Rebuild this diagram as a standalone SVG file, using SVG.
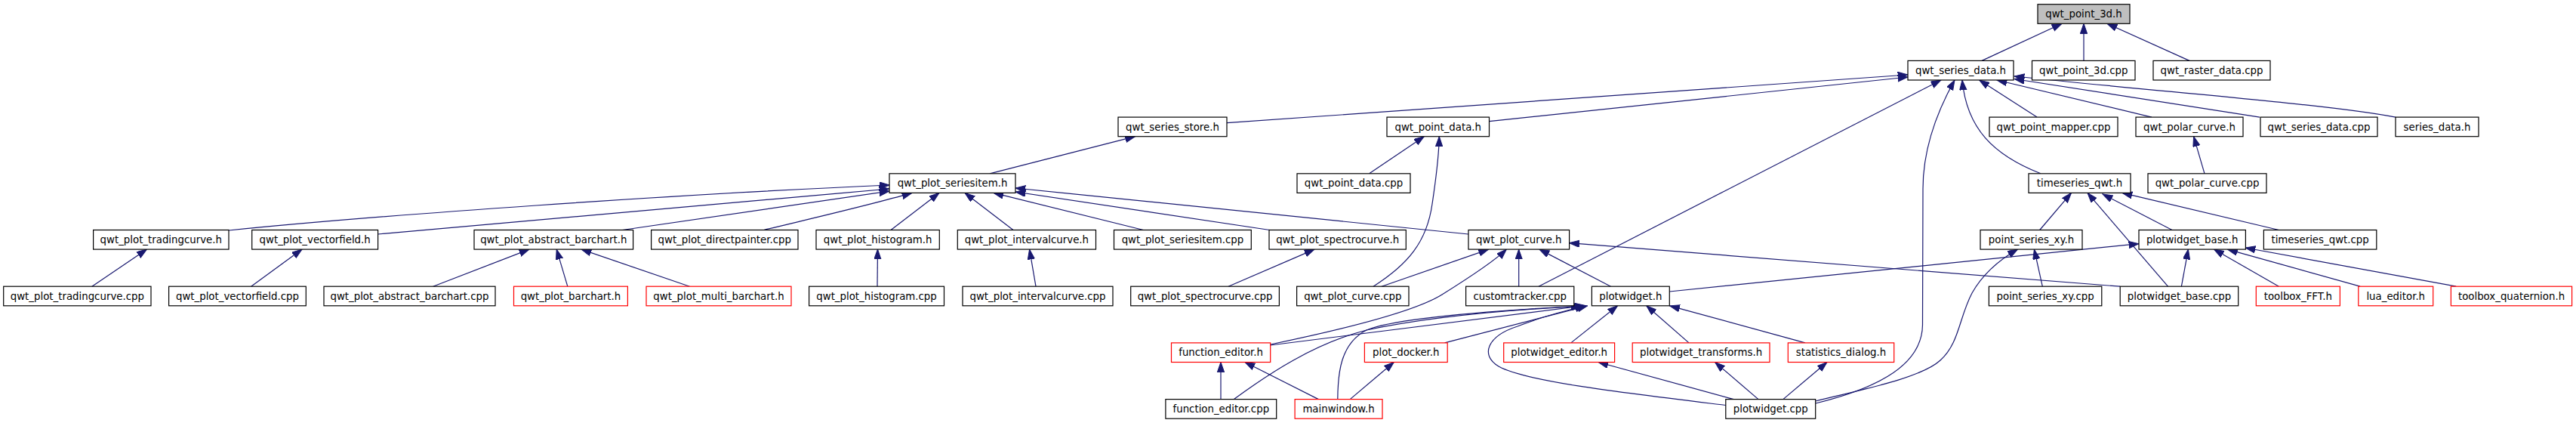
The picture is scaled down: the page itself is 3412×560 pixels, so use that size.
<svg xmlns="http://www.w3.org/2000/svg" width="3412" height="560" viewBox="0 0 3412 560">
<style>
rect{fill:#fff;stroke:#000;stroke-width:1.2}
.red rect{stroke:#ff0000}
.root rect{fill:#bfbfbf}
text{font-family:"DejaVu Sans","Liberation Sans",sans-serif;font-size:13.33px;text-anchor:middle;fill:#000}
#edges path{fill:none;stroke:#191970;stroke-width:1.2;marker-end:url(#ah)}
</style>
<defs>
<marker id="ah" markerUnits="userSpaceOnUse" markerWidth="14" markerHeight="10" refX="13.3" refY="4.67" orient="auto" viewBox="0 0 14 10">
<path d="M0,0 L13.3,4.67 L0,9.34 z" fill="#191970" stroke="#191970" stroke-width="1"/>
</marker>
</defs>
<rect x="0" y="0" width="3412" height="560" style="fill:#fff;stroke:none"/>
<g id="edges">
<path d="M2625,80.4 L2731,31.3"/>
<path d="M2760,80.4 L2760,31.3"/>
<path d="M2900,80.4 L2791,31.3"/>
<path d="M1625,162.7 L2527,99"/>
<path d="M1972.5,160.7 L2527,102"/>
<path d="M2038,379.2 L2571,106"/>
<path d="M2404.7,534 C2470,518 2546,490 2546.5,430 L2547,250 C2547,190 2570,140 2589,106"/>
<path d="M2703,229.8 C2640,205 2605,170 2599,106"/>
<path d="M2698,155.1 L2621.7,106"/>
<path d="M2850,155.1 L2645,106"/>
<path d="M2993,155.1 L2668,104.5"/>
<path d="M3173,155.1 C3080,138 2900,125 2668,101"/>
<path d="M1311,229.8 L1503.6,180.7"/>
<path d="M303,305 C500,285 900,257 1178,245"/>
<path d="M500.6,310 L1178,250"/>
<path d="M824.5,304.5 L1178,253"/>
<path d="M1011.7,304.5 C1080,288 1150,272 1208,255.4"/>
<path d="M1180,304.5 L1244,255.4"/>
<path d="M1342,304.5 L1278,255.4"/>
<path d="M1514.4,304.5 L1316,255.4"/>
<path d="M1681.6,304.5 L1345,254"/>
<path d="M1945,310 L1345,249"/>
<path d="M121.8,379.2 L194.5,330.1"/>
<path d="M332.6,379.2 L400,330.1"/>
<path d="M573.6,379.2 L701,330.1"/>
<path d="M751.8,379.2 L737.2,330.1"/>
<path d="M913.5,379.2 L770,330.1"/>
<path d="M1162,379.2 L1162.5,330.1"/>
<path d="M1372,379.2 L1363.6,330.1"/>
<path d="M1627,379.2 L1741,330.1"/>
<path d="M1813.6,229.8 L1886.3,180.7"/>
<path d="M1819,379.2 C1865,350 1890,320 1897,270 C1903,230 1906,200 1906.3,180.7"/>
<path d="M1830,379.2 L1971.7,330.1"/>
<path d="M1682.7,456 C1760,440 1870,415 1910,390 C1950,365 1980,345 1995.4,330.1"/>
<path d="M2011.7,379.2 L2011.7,330.1"/>
<path d="M2133.5,379.2 L2039,330.1"/>
<path d="M2808,379.2 L2078.6,321.7"/>
<path d="M2211.3,386 L2833,322.7"/>
<path d="M2701.7,304.5 L2743.5,255.4"/>
<path d="M2871.5,379.2 L2765,255.4"/>
<path d="M2877,304.5 L2785,257"/>
<path d="M3018.4,304.5 L2811,255.4"/>
<path d="M2889.4,379.2 L2898.4,330.1"/>
<path d="M3018.4,379.2 L2932.4,330.1"/>
<path d="M3126,379.2 L2950.4,330.1"/>
<path d="M3253.2,379.2 L2974,328"/>
<path d="M2705.3,379.2 L2694.4,330.1"/>
<path d="M2404.7,531 C2470,515 2545,500 2570,477 C2595,455 2595,420 2612,388 C2628,360 2650,343 2672.6,330.1"/>
<path d="M2920,229.8 L2905.6,180.7"/>
<path d="M1913.6,453.9 L2102.6,404.8"/>
<path d="M2080.8,453.9 L2142.6,404.8"/>
<path d="M2237,453.9 L2180.8,404.8"/>
<path d="M2391,453.9 L2211.6,404.8"/>
<path d="M1682.7,457 L2100,404.5"/>
<path d="M1634.4,528.6 C1680,495 1740,455 1810,437 C1900,418 2000,410 2094,405.5"/>
<path d="M1771.8,528.6 C1772,495 1775,455 1810,437 C1850,420 2000,410 2096,405"/>
<path d="M2285.8,536.5 C2150,520 2020,505 1985,485 C1960,470 1970,445 2010,432 C2040,420 2070,412 2100,405"/>
<path d="M1746.4,528.6 L1649,479.5"/>
<path d="M1617,528.6 L1617,479.5"/>
<path d="M1788.2,528.6 L1846.3,479.5"/>
<path d="M2296.4,528.6 L2117,479.5"/>
<path d="M2329,528.6 L2271.6,479.5"/>
<path d="M2361.8,528.6 L2420,479.5"/>
</g>
<g id="n_qwt_point_3d_h" class="root"><rect x="2699" y="5.7" width="122" height="25.6"/><text x="2760" y="23.2">qwt_point_3d.h</text></g>
<g id="n_qwt_series_data_h"><rect x="2527" y="80.4" width="140" height="25.6"/><text x="2597" y="97.9">qwt_series_data.h</text></g>
<g id="n_qwt_point_3d_cpp"><rect x="2691.5" y="80.4" width="136.5" height="25.6"/><text x="2759.75" y="97.9">qwt_point_3d.cpp</text></g>
<g id="n_qwt_raster_data_cpp"><rect x="2852" y="80.4" width="155" height="25.6"/><text x="2929.5" y="97.9">qwt_raster_data.cpp</text></g>
<g id="n_qwt_series_store_h"><rect x="1481" y="155.1" width="144" height="25.6"/><text x="1553" y="172.6">qwt_series_store.h</text></g>
<g id="n_qwt_point_data_h"><rect x="1837" y="155.1" width="135.5" height="25.6"/><text x="1904.75" y="172.6">qwt_point_data.h</text></g>
<g id="n_qwt_point_mapper_cpp"><rect x="2635" y="155.1" width="170" height="25.6"/><text x="2720" y="172.6">qwt_point_mapper.cpp</text></g>
<g id="n_qwt_polar_curve_h"><rect x="2829" y="155.1" width="142" height="25.6"/><text x="2900" y="172.6">qwt_polar_curve.h</text></g>
<g id="n_qwt_series_data_cpp"><rect x="2994" y="155.1" width="155" height="25.6"/><text x="3071.5" y="172.6">qwt_series_data.cpp</text></g>
<g id="n_series_data_h"><rect x="3173" y="155.1" width="110" height="25.6"/><text x="3228" y="172.6">series_data.h</text></g>
<g id="n_qwt_plot_seriesitem_h"><rect x="1178" y="229.8" width="167" height="25.6"/><text x="1261.5" y="247.3">qwt_plot_seriesitem.h</text></g>
<g id="n_qwt_point_data_cpp"><rect x="1718" y="229.8" width="150" height="25.6"/><text x="1793" y="247.3">qwt_point_data.cpp</text></g>
<g id="n_timeseries_qwt_h"><rect x="2687" y="229.8" width="135" height="25.6"/><text x="2754.5" y="247.3">timeseries_qwt.h</text></g>
<g id="n_qwt_polar_curve_cpp"><rect x="2845" y="229.8" width="157" height="25.6"/><text x="2923.5" y="247.3">qwt_polar_curve.cpp</text></g>
<g id="n_qwt_plot_tradingcurve_h"><rect x="123.6" y="304.5" width="179.4" height="25.6"/><text x="213.3" y="322">qwt_plot_tradingcurve.h</text></g>
<g id="n_qwt_plot_vectorfield_h"><rect x="333.7" y="304.5" width="166.9" height="25.6"/><text x="417.15" y="322">qwt_plot_vectorfield.h</text></g>
<g id="n_qwt_plot_abstract_barchart_h"><rect x="628" y="304.5" width="210.6" height="25.6"/><text x="733.3" y="322">qwt_plot_abstract_barchart.h</text></g>
<g id="n_qwt_plot_directpainter_cpp"><rect x="862.6" y="304.5" width="194.4" height="25.6"/><text x="959.8" y="322">qwt_plot_directpainter.cpp</text></g>
<g id="n_qwt_plot_histogram_h"><rect x="1081" y="304.5" width="163.3" height="25.6"/><text x="1162.65" y="322">qwt_plot_histogram.h</text></g>
<g id="n_qwt_plot_intervalcurve_h"><rect x="1268.3" y="304.5" width="183.2" height="25.6"/><text x="1359.9" y="322">qwt_plot_intervalcurve.h</text></g>
<g id="n_qwt_plot_seriesitem_cpp"><rect x="1475.5" y="304.5" width="181.8" height="25.6"/><text x="1566.4" y="322">qwt_plot_seriesitem.cpp</text></g>
<g id="n_qwt_plot_spectrocurve_h"><rect x="1681" y="304.5" width="181.3" height="25.6"/><text x="1771.65" y="322">qwt_plot_spectrocurve.h</text></g>
<g id="n_qwt_plot_curve_h"><rect x="1945" y="304.5" width="133.6" height="25.6"/><text x="2011.8" y="322">qwt_plot_curve.h</text></g>
<g id="n_point_series_xy_h"><rect x="2623" y="304.5" width="135" height="25.6"/><text x="2690.5" y="322">point_series_xy.h</text></g>
<g id="n_plotwidget_base_h"><rect x="2833" y="304.5" width="141.4" height="25.6"/><text x="2903.7" y="322">plotwidget_base.h</text></g>
<g id="n_timeseries_qwt_cpp"><rect x="2998.4" y="304.5" width="149.4" height="25.6"/><text x="3073.1" y="322">timeseries_qwt.cpp</text></g>
<g id="n_qwt_plot_tradingcurve_cpp"><rect x="4.7" y="379.2" width="195.3" height="25.6"/><text x="102.35" y="396.7">qwt_plot_tradingcurve.cpp</text></g>
<g id="n_qwt_plot_vectorfield_cpp"><rect x="223.6" y="379.2" width="181.7" height="25.6"/><text x="314.45" y="396.7">qwt_plot_vectorfield.cpp</text></g>
<g id="n_qwt_plot_abstract_barchart_cpp"><rect x="429" y="379.2" width="227" height="25.6"/><text x="542.5" y="396.7">qwt_plot_abstract_barchart.cpp</text></g>
<g id="n_qwt_plot_barchart_h" class="red"><rect x="680.5" y="379.2" width="150.9" height="25.6"/><text x="755.95" y="396.7">qwt_plot_barchart.h</text></g>
<g id="n_qwt_plot_multi_barchart_h" class="red"><rect x="856" y="379.2" width="192" height="25.6"/><text x="952" y="396.7">qwt_plot_multi_barchart.h</text></g>
<g id="n_qwt_plot_histogram_cpp"><rect x="1071.6" y="379.2" width="178.9" height="25.6"/><text x="1161.05" y="396.7">qwt_plot_histogram.cpp</text></g>
<g id="n_qwt_plot_intervalcurve_cpp"><rect x="1275" y="379.2" width="199" height="25.6"/><text x="1374.5" y="396.7">qwt_plot_intervalcurve.cpp</text></g>
<g id="n_qwt_plot_spectrocurve_cpp"><rect x="1497.7" y="379.2" width="196.7" height="25.6"/><text x="1596.05" y="396.7">qwt_plot_spectrocurve.cpp</text></g>
<g id="n_qwt_plot_curve_cpp"><rect x="1717.6" y="379.2" width="148.4" height="25.6"/><text x="1791.8" y="396.7">qwt_plot_curve.cpp</text></g>
<g id="n_customtracker_cpp"><rect x="1941.6" y="379.2" width="143.2" height="25.6"/><text x="2013.2" y="396.7">customtracker.cpp</text></g>
<g id="n_plotwidget_h"><rect x="2108.4" y="379.2" width="102.9" height="25.6"/><text x="2159.85" y="396.7">plotwidget.h</text></g>
<g id="n_point_series_xy_cpp"><rect x="2634.4" y="379.2" width="149.4" height="25.6"/><text x="2709.1" y="396.7">point_series_xy.cpp</text></g>
<g id="n_plotwidget_base_cpp"><rect x="2808.2" y="379.2" width="156.5" height="25.6"/><text x="2886.45" y="396.7">plotwidget_base.cpp</text></g>
<g id="n_toolbox_FFT_h" class="red"><rect x="2988.3" y="379.2" width="111.1" height="25.6"/><text x="3043.85" y="396.7">toolbox_FFT.h</text></g>
<g id="n_lua_editor_h" class="red"><rect x="3123.8" y="379.2" width="98.9" height="25.6"/><text x="3173.25" y="396.7">lua_editor.h</text></g>
<g id="n_toolbox_quaternion_h" class="red"><rect x="3246.4" y="379.2" width="160.2" height="25.6"/><text x="3326.5" y="396.7">toolbox_quaternion.h</text></g>
<g id="n_function_editor_h" class="red"><rect x="1551.5" y="453.9" width="131.2" height="25.6"/><text x="1617.1" y="471.4">function_editor.h</text></g>
<g id="n_plot_docker_h" class="red"><rect x="1807.4" y="453.9" width="109.8" height="25.6"/><text x="1862.3" y="471.4">plot_docker.h</text></g>
<g id="n_plotwidget_editor_h" class="red"><rect x="1991.7" y="453.9" width="146.9" height="25.6"/><text x="2065.15" y="471.4">plotwidget_editor.h</text></g>
<g id="n_plotwidget_transforms_h" class="red"><rect x="2162.2" y="453.9" width="181.8" height="25.6"/><text x="2253.1" y="471.4">plotwidget_transforms.h</text></g>
<g id="n_statistics_dialog_h" class="red"><rect x="2368.3" y="453.9" width="140.4" height="25.6"/><text x="2438.5" y="471.4">statistics_dialog.h</text></g>
<g id="n_function_editor_cpp"><rect x="1543.9" y="528.6" width="146.8" height="25.6"/><text x="1617.3" y="546.1">function_editor.cpp</text></g>
<g id="n_mainwindow_h" class="red"><rect x="1715.1" y="528.6" width="115.9" height="25.6"/><text x="1773.05" y="546.1">mainwindow.h</text></g>
<g id="n_plotwidget_cpp"><rect x="2285.8" y="528.6" width="118.9" height="25.6"/><text x="2345.25" y="546.1">plotwidget.cpp</text></g>
</svg>
